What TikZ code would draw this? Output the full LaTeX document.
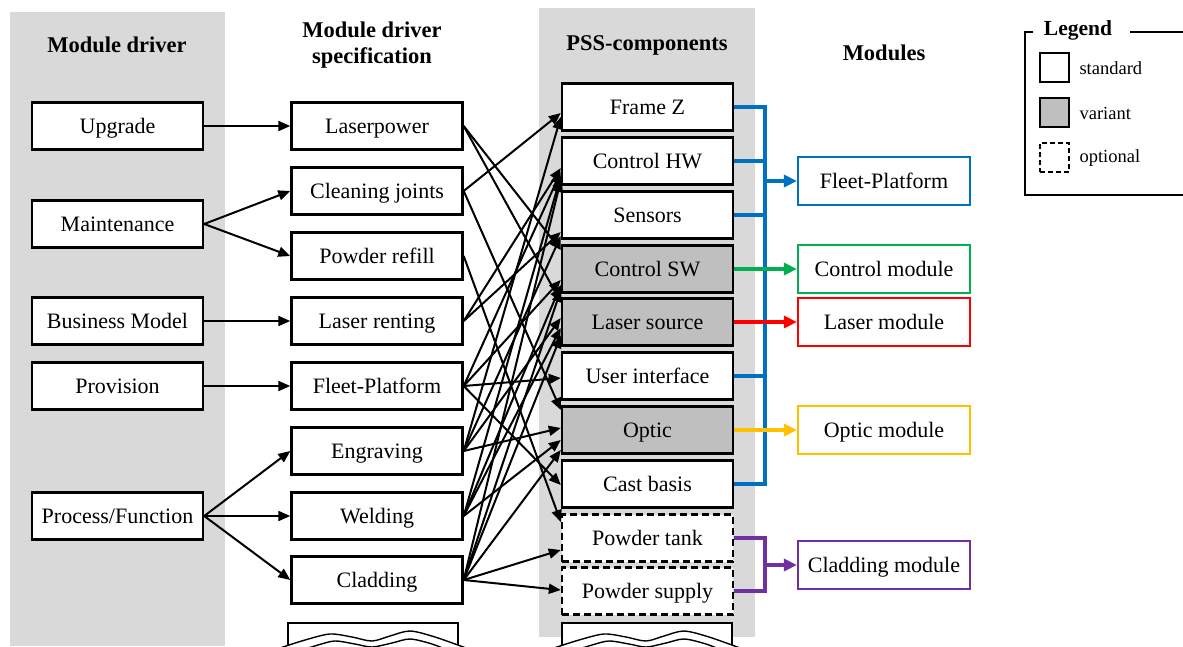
\documentclass[tikz,border=0pt]{standalone}
\usepackage{fontspec}
\setmainfont{Liberation Serif}
\usetikzlibrary{arrows.meta,calc}
\definecolor{bggray}{HTML}{D9D9D9}
\definecolor{vargray}{HTML}{BFBFBF}
\definecolor{mblue}{HTML}{0070C0}
\definecolor{mgreen}{HTML}{00B050}
\definecolor{mred}{HTML}{FF0000}
\definecolor{myellow}{HTML}{FFC000}
\definecolor{mpurple}{HTML}{7030A0}
\tikzset{
  box/.style={draw=black, line width=2.4pt, fill=white, minimum width=171pt, minimum height=47pt, inner sep=0pt, text height=15pt, text depth=1pt},
  varbox/.style={box, fill=vargray},
  optbox/.style={box, dashed, dash pattern=on 7pt off 4pt},
  modbox/.style={draw=#1, line width=2.2pt, fill=white, minimum width=172pt, minimum height=48pt, inner sep=0pt, text height=15pt, text depth=1pt},
  conn/.style={line width=2pt, -{Triangle[length=12pt,width=10pt]}},
  bus/.style={draw=#1, line width=3.2pt},
  busarrow/.style={#1, line width=3.2pt, -{Triangle[length=13pt,width=12pt]}},
  head/.style={font=\fontsize{22.5}{26}\selectfont\bfseries, align=center},
  legtext/.style={font=\fontsize{18.5}{21}\selectfont, anchor=west},
  legsq/.style={line width=2.5pt, minimum width=29pt, minimum height=29pt, inner sep=0pt}
}
\begin{document}
\begin{tikzpicture}[x=1pt,y=-1pt,font=\fontsize{22}{26}\selectfont]
\useasboundingbox (0,0) rectangle (1183,646);
% gray columns
\fill[bggray] (10,12) rectangle (225,646);
\fill[bggray] (539,8) rectangle (755,637);
% headers
\node[head] (h1) at (117,45) {Module driver};
\node[head] (h2) at (372,45) {Module driver\\specification};
\node[head] (h3) at (647,45) {PSS-components};
\node[head] (h4) at (884,53) {Modules};
% column 1
\node[box] (upg) at (117.5,126) {Upgrade};
\node[box] (mai) at (117.5,224) {Maintenance};
\node[box] (bus) at (117.5,321) {Business Model};
\node[box] (pro) at (117.5,386) {Provision};
\node[box] (prf) at (117.5,516) {Process/Function};
% column 2
\node[box] (lp) at (377,126) {Laserpower};
\node[box] (cj) at (377,191) {Cleaning joints};
\node[box] (pr) at (377,256) {Powder refill};
\node[box] (lr) at (377,321) {Laser renting};
\node[box] (fp) at (377,386) {Fleet-Platform};
\node[box] (eng) at (377,451) {Engraving};
\node[box] (wel) at (377,516) {Welding};
\node[box] (cla) at (377,580) {Cladding};
% column 3
\node[box] (frz) at (647.5,107) {Frame Z};
\node[box] (chw) at (647.5,161) {Control HW};
\node[box] (sen) at (647.5,215) {Sensors};
\node[varbox] (csw) at (647.5,269) {Control SW};
\node[varbox] (las) at (647.5,322) {Laser source};
\node[box] (ui) at (647.5,376) {User interface};
\node[varbox] (opt) at (647.5,430) {Optic};
\node[box] (cab) at (647.5,484) {Cast basis};
\node[optbox] (pt) at (647.5,538) {Powder tank};
\node[optbox] (ps) at (647.5,591) {Powder supply};
% torn boxes at the bottom
\foreach \xa in {288,562}{
  \begin{scope}[xshift=\xa pt - 288pt]
  \fill[white] (288,623) rectangle (458,646);
  \draw[line width=2.4pt] (288,646) -- (288,623) -- (458,623) -- (458,646);
  \draw[line width=1.4pt, fill=white] plot[smooth] coordinates {(280,648) (305,640) (330,634) (352,637) (372,641) (390,636) (410,631) (435,637) (466,648)};
  \draw[line width=1.4pt] plot[smooth] coordinates {(296,652) (318,645) (335,641) (355,644) (372,647) (392,643) (410,639) (432,644) (452,652)};
  \end{scope}
}
% column 4
\node[modbox=mblue] (mfp) at (884,181) {Fleet-Platform};
\node[modbox=mgreen] (mcm) at (884,269) {Control module};
\node[modbox=mred] (mlm) at (884,322) {Laser module};
\node[modbox=myellow] (mom) at (884,430) {Optic module};
\node[modbox=mpurple] (mcl) at (884,565) {Cladding module};
% col1 -> col2
\draw[conn] (upg.east) -- (lp.west);
\draw[conn] (mai.east) -- (cj.west);
\draw[conn] (mai.east) -- (pr.west);
\draw[conn] (bus.east) -- (lr.west);
\draw[conn] (pro.east) -- (fp.west);
\draw[conn] (prf.east) -- (eng.west);
\draw[conn] (prf.east) -- (wel.west);
\draw[conn] (prf.east) -- (cla.west);
% col2 -> col3
\foreach \s/\t/\d in {lp/csw/-19, lp/las/-20,
  cj/frz/6, cj/opt/-20,
  pr/pt/-16,
  lr/chw/7, lr/sen/17,
  fp/chw/11, fp/ui/2, fp/cab/1, fp/csw/11,
  eng/frz/10, eng/sen/21, eng/las/-4, eng/opt/-2,
  wel/chw/15, wel/csw/16, wel/las/6, wel/opt/10,
  cla/chw/19, cla/csw/21, cla/las/14, cla/opt/20, cla/pt/12, cla/ps/-1}
  \draw[conn] (\s.east) -- ($(\t.west)+(0,\d)$);
% blue bus
\coordinate (bt) at (765,107);
\coordinate (bb) at (765,484);
\coordinate (bfp) at (765,181);
\draw[bus=mblue] (frz.east) -- (bt) -- (bb) -- (cab.east);
\draw[bus=mblue] (chw.east) -- (chw.east -| bt);
\draw[bus=mblue] (sen.east) -- (sen.east -| bt);
\draw[bus=mblue] (ui.east) -- (ui.east -| bt);
\draw[busarrow=mblue] (bfp) -- (mfp.west);
% single colored arrows
\draw[busarrow=mgreen] (csw.east) -- (mcm.west);
\draw[busarrow=mred] (las.east) -- (mlm.west);
\draw[busarrow=myellow] (opt.east) -- (mom.west);
% purple bracket
\coordinate (pt1) at (765,538);
\coordinate (pt2) at (765,591);
\coordinate (pmid) at (765,565);
\draw[bus=mpurple] (pt.east) -- (pt1) -- (pt2) -- (ps.east);
\draw[busarrow=mpurple] (pmid) -- (mcl.west);
% legend
\coordinate (l1) at (1025,32);
\coordinate (l2) at (1025,195);
\draw[line width=1.5pt] (1033,32) -- (l1) -- (l2) -- (1183,195);
\draw[line width=1.5pt] (1130,32) -- (1183,32);
\node[font=\fontsize{21.5}{24}\selectfont\bfseries] (leg) at (1078,30) {Legend};
\node[legsq, draw=black, fill=white] (sq1) at (1054.5,67.5) {};
\node[legsq, draw=black, fill=vargray] (sq2) at (1054.5,112.5) {};
\node[legsq, draw=black, fill=white, dashed, dash pattern=on 5pt off 3pt] (sq3) at (1054.5,157.5) {};
\node[legtext] (t1) at (1076,68) {standard};
\node[legtext] (t2) at (1076,113) {variant};
\node[legtext] (t3) at (1076,158) {optional};
\end{tikzpicture}
\end{document}
